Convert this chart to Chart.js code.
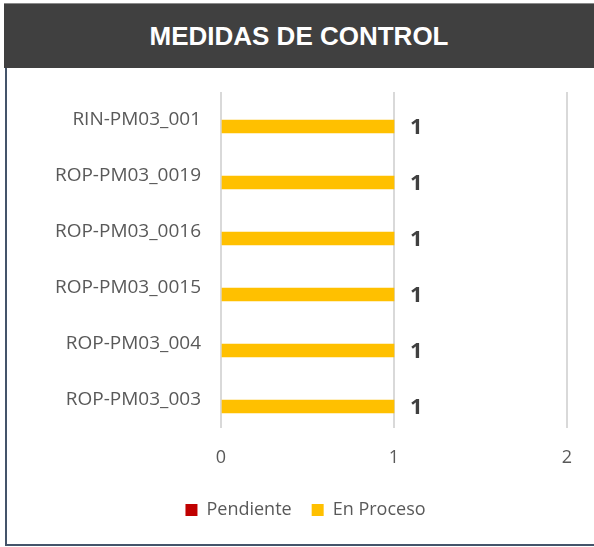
<!DOCTYPE html>
<html>
<head>
<meta charset="utf-8">
<script src="https://cdn.jsdelivr.net/npm/chart.js@4"></script>
<style>
  html, body { margin: 0; padding: 0; background: #ffffff; }
  #card { position: relative; width: 594px; height: 547px; overflow: hidden; }
  #card .head {
    position: absolute; left: 4px; top: 3px; width: 590px; height: 65px;
    background: #404040; border-top: 1px solid #8a8a8a; box-sizing: border-box;
    color: #ffffff; font: bold 26px "Liberation Sans", Arial, sans-serif;
    text-align: center; line-height: 64px;
  }
  #card .edge-left { position: absolute; left: 5px; top: 68px; width: 2px; height: 478px; background: #44546a; }
  #card .edge-bottom { position: absolute; left: 5px; top: 544px; width: 589px; height: 2px; background: #44546a; }
  #card .plot { position: absolute; left: 0; top: 68px; width: 594px; height: 476px; }
</style>
</head>
<body>
<div id="card">
  <div class="head">MEDIDAS DE CONTROL</div>
  <div class="edge-left"></div>
  <div class="edge-bottom"></div>
  <div class="plot"><canvas id="medidas-chart"></canvas></div>
</div>
<script>
/* ---- datos ---- */
var categorias = ['RIN-PM03_001', 'ROP-PM03_0019', 'ROP-PM03_0016', 'ROP-PM03_0015', 'ROP-PM03_004', 'ROP-PM03_003'];
var pendiente = [null, null, null, null, null, null];
var enProceso = [1, 1, 1, 1, 1, 1];
var ticksX = [0, 1, 2];

(function() {
    'use strict';

    var canvas = document.getElementById('medidas-chart');
    if (!canvas || typeof Chart === 'undefined') return;

    var gris = '#595959';
    var fuente = '"Open Sans", "Liberation Sans", sans-serif';

    /* etiquetas de valor al final de cada barra */
    var etiquetas = {
        id: 'etiquetasValor',
        afterDatasetsDraw: function(chart) {
            var ctx = chart.ctx;
            ctx.save();
            ctx.font = 'bold 22px ' + fuente;
            ctx.fillStyle = '#404040';
            ctx.textAlign = 'left';
            ctx.textBaseline = 'middle';
            chart.data.datasets.forEach(function(ds, i) {
                var meta = chart.getDatasetMeta(i);
                meta.data.forEach(function(bar, j) {
                    var v = ds.data[j];
                    if (v === null || v === undefined) return;
                    ctx.fillText(String(v), bar.x + 16, bar.y + 1);
                });
            });
            ctx.restore();
        }
    };

    new Chart(canvas, {
        type: 'bar',
        data: {
            labels: categorias,
            datasets: [
                { label: 'Pendiente', data: pendiente, backgroundColor: '#C00000', barThickness: 13 },
                { label: 'En Proceso', data: enProceso, backgroundColor: '#FFC000', barThickness: 13 }
            ]
        },
        options: {
            indexAxis: 'y',
            responsive: true,
            maintainAspectRatio: false,
            animation: false,
            layout: { padding: { top: 24, right: 27, left: 44, bottom: 15 } },
            plugins: {
                legend: {
                    position: 'bottom',
                    labels: {
                        boxWidth: 12, boxHeight: 12, padding: 20,
                        color: gris, font: { family: fuente, size: 18 }
                    }
                },
                tooltip: { enabled: false }
            },
            scales: {
                x: {
                    min: ticksX[0],
                    max: ticksX[ticksX.length - 1],
                    afterBuildTicks: function(scale) {
                        scale.ticks = ticksX.map(function(v) { return { value: v }; });
                    },
                    afterFit: function(scale) { scale.height = 53; },
                    grid: { color: '#D9D9D9', lineWidth: 2, drawTicks: false },
                    border: { display: false },
                    ticks: { color: gris, padding: 19, font: { family: fuente, size: 18 } }
                },
                y: {
                    afterFit: function(scale) {
                        scale.width = 177;
                        scale.paddingTop = 0;
                        scale.paddingBottom = 0;
                    },
                    grid: { display: false, drawTicks: false },
                    border: { display: false },
                    ticks: { color: gris, padding: 20, font: { family: fuente, size: 19 } }
                }
            }
        },
        plugins: [etiquetas]
    });
})();
</script>
</body>
</html>
